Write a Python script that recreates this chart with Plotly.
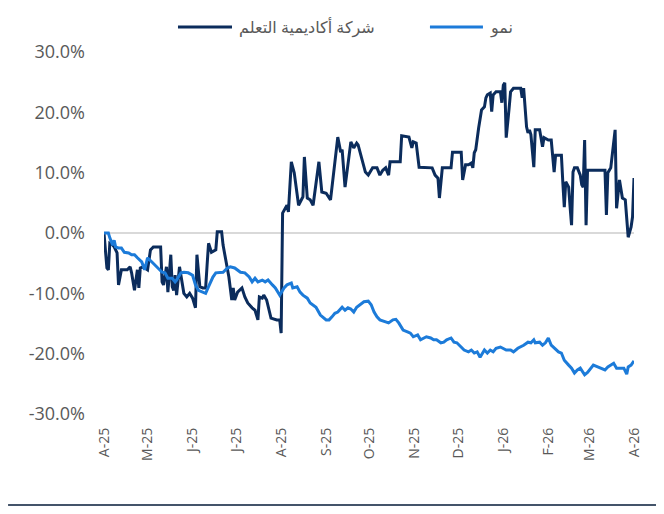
import pandas as pd
import plotly.graph_objects as go

# Series names (legend)
name_academy = "شركة أكاديمية التعلم"
name_nomu = "نمو"

START = "2025-04-01"

# Academy series: day offset from START, cumulative return (%)
academy_day = [0, 2, 3, 4, 6, 7, 9, 10, 12, 16, 18, 19, 21, 23, 24, 25, 27, 30, 32, 34,
               39, 40, 41, 43, 44, 46, 47, 48, 49, 50, 52, 55, 57, 59, 61, 63, 64, 66, 68, 70,
               71, 72, 74, 77, 78, 81, 82, 84, 86, 88, 89, 90, 92, 95, 97, 99, 100, 102, 104, 106,
               107, 109, 110, 112, 115, 119, 121, 122, 123, 125, 126, 127, 129, 131, 134, 137, 138, 140, 142, 144,
               148, 150, 153, 156, 158, 160, 161, 163, 164, 166, 168, 169, 170, 172, 174, 175, 178, 180, 182, 185,
               188, 190, 192, 194, 196, 197, 204, 205, 210, 212, 213, 215, 217, 226, 228, 230, 231, 233, 239, 240,
               246, 247, 249, 251, 253, 254, 255, 256, 258, 260, 262, 263, 264, 266, 267, 268, 270, 273, 274, 275,
               276, 277, 279, 280, 282, 287, 288, 289, 291, 292, 293, 294, 296, 297, 300, 302, 303, 306, 308, 310,
               311, 313, 315, 316, 317, 318, 320, 321, 322, 323, 324, 326, 328, 329, 330, 331, 332, 333, 345, 346,
               347, 349, 352, 353, 355, 357, 359, 361, 363, 364, 365]
academy_pct = [0.0, -5.8, -6.1, -1.7, -2.0, -2.3, -3.3, -8.6, -6.1, -6.1, -5.6, -6.6, -9.5, -6.1, -9.1, -5.8, -5.6, -6.1, -2.8, -2.3,
               -2.3, -8.1, -8.6, -5.6, -9.8, -3.6, -8.9, -9.5, -7.0, -10.3, -5.6, -10.0, -10.6, -10.0, -10.8, -12.4, -3.6, -8.9, -9.1, -9.1,
               -5.3, -1.7, -3.2, -2.8, 0.2, 0.2, -2.0, -5.0, -7.3, -11.1, -9.1, -11.1, -9.8, -9.1, -10.6, -11.6, -11.9, -12.4, -12.8, -14.4,
               -10.6, -10.8, -10.3, -11.1, -14.1, -14.4, -14.4, -16.6, 3.3, 4.1, 4.6, 3.5, 11.8, 10.0, 4.6, 6.0, 12.6, 5.8, 5.5, 4.6,
               11.8, 6.8, 6.6, 5.5, 9.6, 13.8, 15.9, 13.4, 13.8, 7.6, 11.6, 13.3, 15.1, 14.1, 14.9, 14.6, 11.6, 10.1, 9.6, 10.8,
               10.8, 9.6, 10.4, 10.8, 9.6, 11.8, 11.8, 16.1, 15.9, 14.1, 15.1, 14.9, 10.9, 10.8, 9.6, 9.1, 5.8, 10.8, 10.8, 13.4,
               13.4, 8.8, 11.3, 11.3, 11.6, 10.8, 13.3, 13.8, 17.4, 20.4, 20.9, 22.4, 22.9, 23.2, 20.1, 22.9, 23.4, 23.4, 21.6, 24.5,
               24.9, 15.8, 20.7, 23.4, 24.0, 24.0, 22.4, 24.0, 17.6, 16.6, 17.1, 16.3, 10.9, 17.1, 17.1, 14.3, 15.8, 15.4, 15.4, 10.1,
               12.9, 12.9, 12.9, 8.3, 4.3, 8.5, 7.6, 4.3, 1.3, 10.1, 10.8, 10.8, 9.6, 8.0, 7.6, 15.4, 1.3, 10.4, 10.4, 3.0,
               10.0, 10.8, 17.1, 4.1, 8.8, 5.8, 5.5, -0.7, 1.0, 2.7, 9.1]

# Nomu index: day offset from START, cumulative return (%)
nomu_day = [0, 3, 4, 6, 7, 8, 10, 12, 14, 17, 19, 21, 23, 26, 28, 30, 33, 35, 37, 40,
            42, 44, 47, 49, 50, 53, 55, 58, 61, 63, 65, 68, 70, 72, 75, 77, 80, 82, 85, 87,
            90, 94, 97, 100, 102, 104, 106, 109, 111, 113, 116, 118, 121, 124, 126, 129, 130, 133, 135, 137,
            140, 142, 146, 149, 153, 155, 157, 159, 161, 164, 166, 168, 170, 172, 174, 176, 179, 182, 184, 186,
            188, 190, 194, 196, 199, 201, 203, 206, 209, 211, 213, 216, 218, 220, 222, 225, 227, 229, 232, 234,
            236, 239, 241, 243, 246, 248, 251, 253, 255, 257, 259, 262, 264, 266, 268, 270, 273, 277, 280, 282,
            285, 287, 289, 292, 294, 296, 297, 300, 302, 304, 306, 308, 310, 313, 315, 317, 320, 322, 324, 326,
            328, 331, 333, 335, 337, 340, 342, 345, 347, 349, 351, 353, 355, 358, 360, 361, 363, 365]
nomu_pct = [0.0, 0.0, -0.8, -2.0, -1.2, -2.3, -2.5, -2.5, -3.2, -3.3, -3.6, -3.6, -4.1, -4.8, -6.1, -4.1, -4.8, -5.3, -5.8, -6.5,
            -6.6, -7.5, -7.5, -8.1, -7.8, -6.6, -6.5, -6.6, -7.0, -8.6, -9.5, -9.8, -10.0, -8.9, -7.3, -6.6, -6.5, -6.5, -5.8, -5.6,
            -5.8, -6.5, -6.6, -7.3, -8.1, -7.5, -8.1, -7.8, -8.1, -7.8, -8.6, -9.1, -10.3, -9.1, -8.6, -8.3, -9.1, -8.9, -9.8, -10.3,
            -10.8, -11.6, -12.3, -13.6, -14.4, -14.4, -13.9, -13.3, -13.1, -12.3, -12.8, -12.4, -12.6, -13.1, -12.3, -11.9, -11.4, -11.3, -11.9, -13.1,
            -13.9, -14.4, -14.8, -14.9, -14.4, -14.3, -14.9, -16.1, -16.4, -16.6, -17.2, -16.9, -17.7, -17.4, -17.2, -17.4, -17.7, -17.7, -18.2, -18.1,
            -17.7, -17.4, -18.1, -18.2, -18.9, -19.4, -19.7, -19.4, -19.9, -19.7, -20.6, -19.4, -19.9, -19.4, -19.7, -19.1, -18.9, -19.4, -19.4, -19.7,
            -19.1, -18.9, -18.6, -18.1, -18.2, -17.7, -18.2, -18.1, -18.6, -18.2, -17.4, -18.6, -19.1, -19.7, -19.9, -21.1, -21.9, -22.4, -23.2, -22.7,
            -22.4, -23.5, -23.1, -22.4, -21.9, -22.2, -22.4, -22.7, -22.2, -21.9, -21.6, -22.4, -22.4, -22.4, -23.4, -22.2, -21.9, -21.2]

# X tick labels (first of each month)
tick_dates = ["2025-04-01", "2025-05-01", "2025-06-01", "2025-07-01", "2025-08-01", "2025-09-01",
              "2025-10-01", "2025-11-01", "2025-12-01", "2026-01-01", "2026-02-01", "2026-03-01", "2026-04-01"]
tick_labels = ["A-25", "M-25", "J-25", "J-25", "A-25", "S-25", "O-25", "N-25", "D-25", "J-26", "F-26", "M-26", "A-26"]

y_ticks = [-0.3, -0.2, -0.1, 0.0, 0.1, 0.2, 0.3]
y_tick_labels = [f"{v * 100:.1f}%" for v in y_ticks]

DARK = "#0b2c5c"
LIGHT = "#1c7bd9"
FONT = "Open Sans, DejaVu Sans, sans-serif"
GREY = "#595959"

start = pd.Timestamp(START)
ax_x = start + pd.to_timedelta(academy_day, unit="D")
nm_x = start + pd.to_timedelta(nomu_day, unit="D")

fig = go.Figure()
fig.add_trace(go.Scatter(x=ax_x, y=[v / 100 for v in academy_pct], mode="lines",
                         name=name_academy, line=dict(color=DARK, width=3)))
fig.add_trace(go.Scatter(x=nm_x, y=[v / 100 for v in nomu_pct], mode="lines",
                         name=name_nomu, line=dict(color=LIGHT, width=3)))

LEG_Y = 1.069
fig.update_layout(
    width=648, height=498,
    margin=dict(l=96, r=22, t=44, b=92, autoexpand=False),
    paper_bgcolor="white", plot_bgcolor="white",
    font=dict(family=FONT, color=GREY, size=15),
    showlegend=False,
    shapes=[
        dict(type="line", xref="paper", yref="paper", x0=-0.181, x1=1.0415,
             y0=-0.2514, y1=-0.2514, line=dict(color="#44546a", width=2)),
        dict(type="line", xref="paper", yref="paper", x0=0.1396, x1=0.2415,
             y0=LEG_Y, y1=LEG_Y, line=dict(color=DARK, width=3)),
        dict(type="line", xref="paper", yref="paper", x0=0.615, x1=0.715,
             y0=LEG_Y, y1=LEG_Y, line=dict(color=LIGHT, width=3)),
    ],
    annotations=[
        dict(text=name_academy, xref="paper", yref="paper", x=0.251, y=LEG_Y,
             xanchor="left", yanchor="middle", showarrow=False,
             font=dict(size=16, color=GREY)),
        dict(text=name_nomu, xref="paper", yref="paper", x=0.7245, y=LEG_Y,
             xanchor="left", yanchor="middle", showarrow=False,
             font=dict(size=16, color=GREY)),
    ],
)
fig.update_xaxes(range=[start, pd.Timestamp("2026-04-01")], tickvals=pd.to_datetime(tick_dates),
                 ticktext=tick_labels, tickangle=-90, showgrid=False, showline=False,
                 zeroline=False, ticks="", automargin=False, ticklabelstandoff=10,
                 tickfont=dict(size=14, color=GREY))
fig.update_yaxes(range=[-0.3, 0.3], tickvals=y_ticks, ticktext=y_tick_labels, showgrid=False,
                 zeroline=True, zerolinecolor="#d9d9d9", zerolinewidth=2, showline=False,
                 ticks="", automargin=False, ticklabelstandoff=18,
                 tickfont=dict(size=18, color=GREY))

fig.write_html("out.html")
